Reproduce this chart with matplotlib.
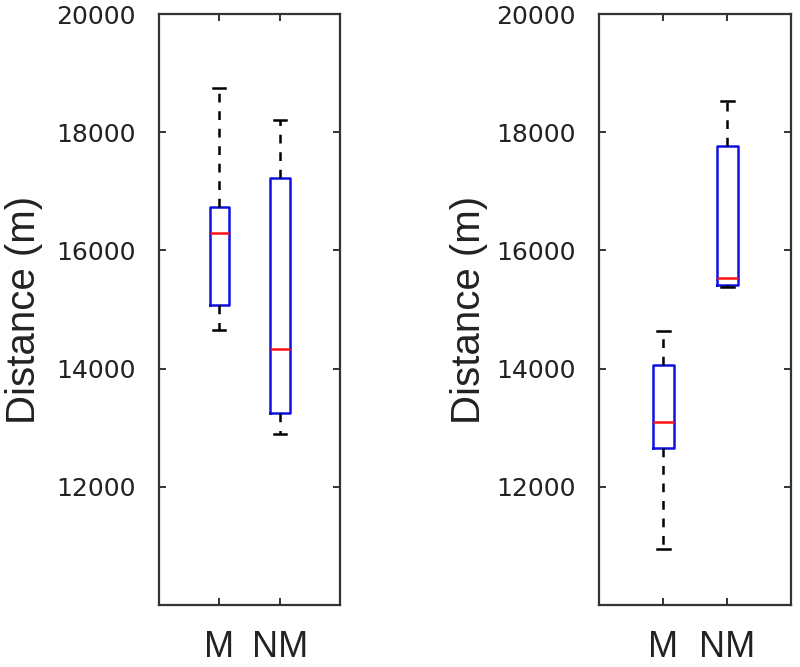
import matplotlib
matplotlib.use('Agg')
import matplotlib.pyplot as plt

# box stats (metres)
groups = ['M', 'NM']
left_whislo = [14650, 12900]
left_q1 = [15080, 13240]
left_med = [16290, 14330]
left_q3 = [16730, 17230]
left_whishi = [18740, 18210]

right_whislo = [10940, 15380]
right_q1 = [12660, 15420]
right_med = [13090, 15540]
right_q3 = [14060, 17770]
right_whishi = [14630, 18530]

yticks = [12000, 14000, 16000, 18000, 20000]


def make_stats(lo, q1, med, q3, hi):
    out = []
    for i in range(len(groups)):
        out.append(dict(label=groups[i], whislo=lo[i], q1=q1[i], med=med[i],
                        q3=q3[i], whishi=hi[i], fliers=[]))
    return out


fig = plt.figure(figsize=(8, 6.67), dpi=100)
ax1 = fig.add_axes([0.199, 0.093, 0.226, 0.886])
ax2 = fig.add_axes([0.749, 0.093, 0.240, 0.886])

panels = [
    (ax1, make_stats(left_whislo, left_q1, left_med, left_q3, left_whishi), -0.64),
    (ax2, make_stats(right_whislo, right_q1, right_med, right_q3, right_whishi), -0.58),
]

for ax, stats, labx in panels:
    ax.bxp(stats, positions=[1, 2], widths=0.33, capwidths=0.2, showfliers=False,
           boxprops=dict(color='#1010e0', linewidth=1.8),
           medianprops=dict(color='#ff1010', linewidth=1.8),
           whiskerprops=dict(color='black', linewidth=1.8, linestyle=(0, (3.5, 3.5))),
           capprops=dict(color='black', linewidth=1.8))
    ax.set_xlim(0, 3)
    ax.set_ylim(10000, 20000)
    ax.set_yticks(yticks)
    ax.set_yticklabels([str(v) for v in yticks], fontsize=18, family='DejaVu Sans', color='#222222')
    ax.set_xticks([1, 2])
    ax.set_xticklabels(groups, fontsize=26, family='Liberation Sans', color='#222222')
    ax.tick_params(direction='in', length=5, width=1.4, color='#333333',
                   top=True, right=True)
    ax.tick_params(axis='x', pad=18)
    ax.tick_params(axis='y', pad=17)
    for s in ax.spines.values():
        s.set_linewidth(1.6)
        s.set_color('#333333')
    ax.set_ylabel('Distance (m)', fontsize=29, family='Liberation Sans', color='#222222')
    ax.yaxis.set_label_coords(labx, 0.5)

fig.savefig('out.png', dpi=100)
